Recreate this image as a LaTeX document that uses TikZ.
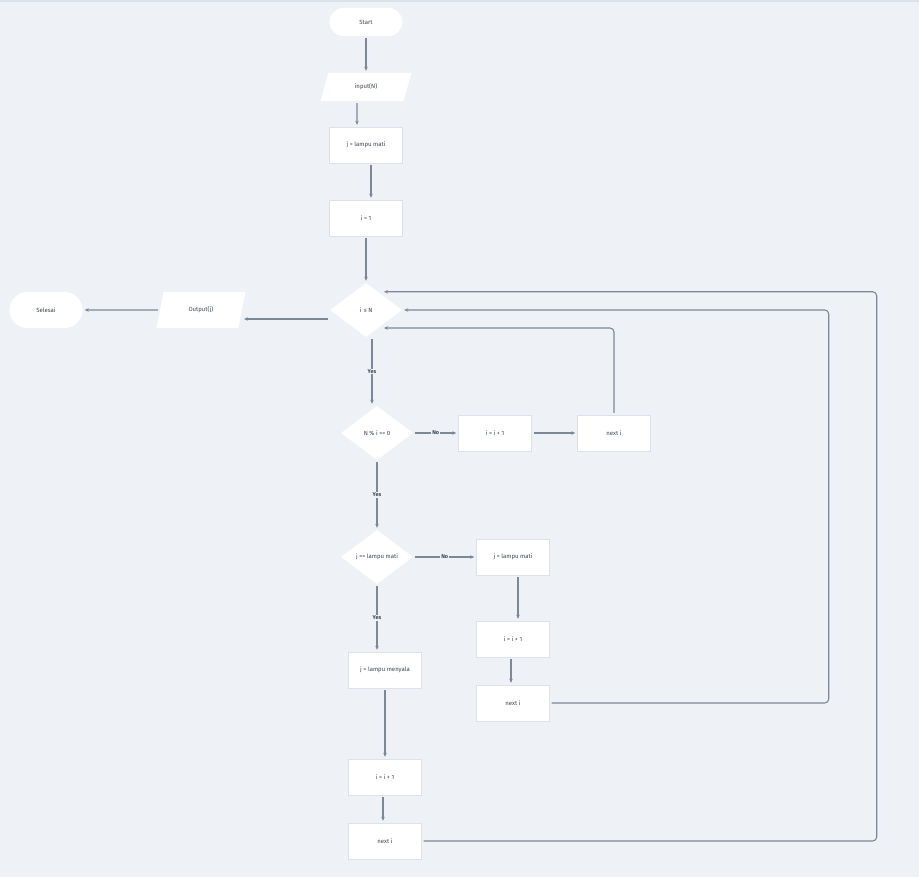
\documentclass[tikz,border=0pt]{standalone}
\usepackage{fontspec}
\setmainfont{Fira Sans}
\usetikzlibrary{shapes.geometric,arrows.meta,calc}

\definecolor{bgcol}{HTML}{EEF2F6}
\definecolor{linecol}{HTML}{7B8898}
\definecolor{txtcol}{HTML}{3C4654}
\definecolor{edgecol}{HTML}{DCE2E8}

\tikzset{
	box/.style={draw=edgecol, fill=white, minimum width=73pt, minimum height=36pt, inner sep=1pt, font=\fontsize{6}{7}\selectfont, text=txtcol},
	term/.style={box, draw=none, rounded corners=14pt},
	io/.style={box, draw=none, trapezium, trapezium left angle=73, trapezium right angle=107, trapezium stretches=true},
	decision/.style={box, draw=none, diamond, minimum width=72pt, minimum height=54pt, inner sep=0pt},
	flow/.style={draw=linecol, line width=1.1pt, ->, shorten <=2pt, shorten >=2pt},
	lbl/.style={fill=bgcol, inner sep=1pt, font=\fontsize{5.5}{6}\selectfont\bfseries, text=txtcol},
}

\begin{document}
\begin{tikzpicture}[x=1pt, y=-1pt, >={Stealth[length=4pt,width=3.5pt]}]
	\fill [bgcol] (0,0) rectangle (919,877);
	\fill [edgecol] (0,0) rectangle (919,2);
	% main column
	\node[term, minimum height=28pt] (start) at (366,22) {Start};
	\node[io, minimum width=91pt, minimum height=28pt] (inpt) at (366,87) {input(N)};
	\node[box] (jinit) at (366,145) {j = lampu mati};
	\node[box] (iinit) at (366,218) {i = 1};
	\node[decision] (loop) at (366,310) {i \,≤ N};
	\node[io, minimum width=89pt] (outp) at (201,310) {Output(j)};
	\node[term, rounded corners=18pt] (done) at (46,310) {Selesai};
	\node[decision] (cekbagi) at (377,433) {N \% i == 0};
	\node[box] (tambahA) at (495,433) {i = i + 1};
	\node[box] (nextA) at (614,433) {next i};
	\node[decision] (cekj) at (377,557) {j == lampu mati};
	\node[box] (jmati) at (513,557) {j = lampu mati};
	\node[box] (tambahB) at (513,639) {i = i + 1};
	\node[box] (nextB) at (513,703) {next i};
	\node[box] (jnyala) at (385,670) {j = lampu menyala};
	\node[box] (tambahC) at (385,777) {i = i + 1};
	\node[box] (nextC) at (385,841) {next i};

	\draw [flow] (start) -- (inpt);
	\draw [flow] ($(inpt.south)+(-9,0)$) -- ($(jinit.north)+(-9,0)$);
	\draw [flow] ($(jinit.south)+(5,0)$) -- ($(iinit.north)+(5,0)$);
	\draw [flow] (iinit) -- (loop);
	\draw [flow] ($(loop.west)+(0,9)$) -- ($(outp.east)+(0,9)$);
	\draw [flow] (outp) -- (done);
	\draw [flow] ($(loop.south)+(6,0)$) -- node[lbl] {Yes} ($(cekbagi.north)+(-5,0)$);
	\draw [flow] (cekbagi) -- node[lbl] {No} (tambahA);
	\draw [flow] (tambahA) -- (nextA);
	\draw [flow] (cekbagi.south) -- node[lbl] {Yes} (cekj.north);
	\draw [flow] (cekj) -- node[lbl] {No} (jmati);
	\draw [flow] ($(jmati.south)+(5,0)$) -- ($(tambahB.north)+(5,0)$);
	\draw [flow] ($(tambahB.south)+(-2,0)$) -- ($(nextB.north)+(-2,0)$);
	\draw [flow] (cekj.south) -- node[lbl] {Yes} ($(jnyala.north)+(-8,0)$);
	\draw [flow] (jnyala) -- (tambahC);
	\draw [flow] ($(tambahC.south)+(-2,0)$) -- ($(nextC.north)+(-2,0)$);
	% loops back to i <= N
	\draw [flow, rounded corners=4pt] (nextA.north) |- ($(loop.center)+(16,18)$);
	\draw [flow, rounded corners=4pt] (nextB.east) -- ++(279,0) |- (loop.east);
	\draw [flow, rounded corners=4pt] (nextC.east) -- ++(455,0) |- ($(loop.north)+(16,9)$);
\end{tikzpicture}
\end{document}
